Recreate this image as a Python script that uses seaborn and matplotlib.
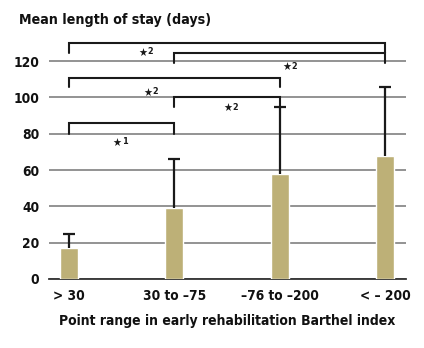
import pandas as pd
import seaborn as sns
import matplotlib.pyplot as plt

# data
groups = ["> 30", "30 to \u201375", "\u201376 to \u2013200", "< \u2013 200"]
mean_stay = [17, 39, 58, 68]
upper_sd = [25, 66, 95, 106]          # top of the error whisker

# significance brackets: (left group, right group, bracket top, leg bottom, label)
br_left = [0, 1, 0, 1, 0]
br_right = [1, 2, 2, 3, 3]
br_top = [86, 100.5, 111, 124.5, 130]
br_leg = [80, 95, 106, 119, 124.5]
br_label = ["1", "2", "2", "2", "2"]
lab_x = [0.5, 1.55, 0.79, 2.11, 0.74]
lab_y = [74.5, 93.5, 102, 116, 124]

df = pd.DataFrame({"group": groups, "stay": mean_stay})

sns.set_theme(style="white")
plt.rcParams["font.family"] = ["DejaVu Sans"]
plt.rcParams["font.stretch"] = "condensed"
plt.rcParams["font.weight"] = "bold"

fig = plt.figure(figsize=(4.24, 3.48), dpi=100)
ax = fig.add_axes([49 / 424, 1 - 279 / 348, 357 / 424, 239.6 / 348])

sns.barplot(data=df, x="group", y="stay", order=groups, color="#bdb077",
            saturation=1, width=0.17, errorbar=None, ax=ax, zorder=3)

# upper whisker only
err = [u - m for u, m in zip(upper_sd, mean_stay)]
eb = ax.errorbar(range(len(groups)), mean_stay, yerr=[[0] * len(err), err],
                 fmt="none", ecolor="#1a1a1a", elinewidth=1.6, capsize=4.5,
                 capthick=1.6, zorder=4)
eb[1][0].set_visible(False)

for l, r, t, b, s, tx, ty in zip(br_left, br_right, br_top, br_leg, br_label, lab_x, lab_y):
    ax.plot([l, l, r, r], [b, t, t, b], color="#1a1a1a", lw=1.5, zorder=5,
            solid_joinstyle="miter")
    ax.text(tx, ty, "\u2605", ha="right", va="center", fontsize=8,
            color="#1a1a1a", zorder=6)
    ax.text(tx + 0.005, ty + 1.2, s, ha="left", va="center", fontsize=6.5,
            color="#1a1a1a", zorder=6)

ax.set_ylim(0, 132)
ax.set_xlim(-0.19, 3.2)
ax.set_yticks([0, 20, 40, 60, 80, 100, 120])
ax.yaxis.grid(True, color="#808080", lw=1.2, zorder=0)
ax.set_axisbelow(True)
for side in ["top", "right", "left"]:
    ax.spines[side].set_visible(False)
ax.spines["bottom"].set_color("#333333")
ax.spines["bottom"].set_linewidth(1.3)
ax.spines["bottom"].set_zorder(2)
ax.tick_params(axis="both", length=0, labelsize=9.8, colors="#111111")
ax.tick_params(axis="y", pad=7)
ax.tick_params(axis="x", pad=7)
ax.set_ylabel("")
ax.set_xlabel("Point range in early rehabilitation Barthel index",
              fontsize=10, fontweight="bold", color="#111111", labelpad=8)

fig.text(19 / 424, 1 - 20 / 348, "Mean length of stay (days)", fontsize=10.2,
         fontweight="bold", color="#111111", va="center", ha="left")

fig.savefig("out.png", dpi=100)
